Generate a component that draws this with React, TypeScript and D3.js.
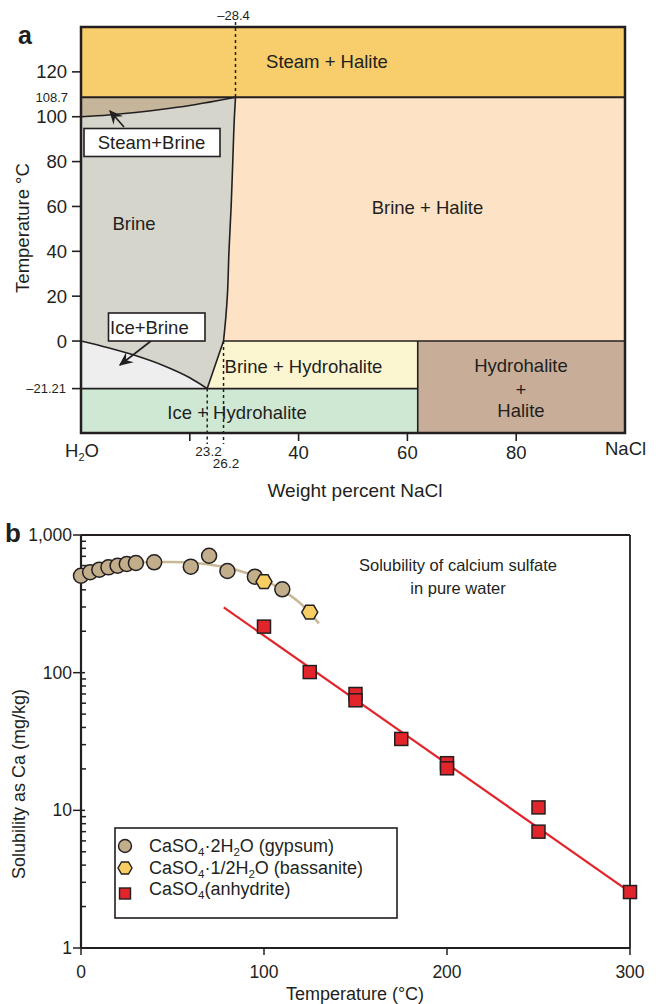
import React from "react";
import * as d3 from "d3";

// ---------- Panel a data (phase diagram H2O–NaCl) ----------
const steamBrineCurve: [number, number][] = [[0, 100], [5, 100.8], [10, 101.9], [15, 103.3], [20, 105], [25, 107.1], [28.4, 108.7]];
const haliteSatCurve: [number, number][] = [[26.2, 0], [26.6, 10], [26.9, 20], [27.2, 40], [27.6, 60], [27.9, 80], [28.2, 100], [28.4, 108.7]];
const iceCurve: [number, number][] = [[0, 0], [5, -3], [10, -6.5], [15, -10.8], [20, -16.4], [23.2, -21.21]];
const eutectic: [number, number] = [23.2, -21.21];
const peritectic: [number, number] = [26.2, 0];
const hydrohaliteX = 61.9;
const boilT = 108.7;
const aYTicks = [120, 100, 80, 60, 40, 20, 0];
const aXTicks = [20, 40, 60, 80];
const aXLabels = [40, 60, 80];

// ---------- Panel b data (CaSO4 solubility) ----------
const gypsumT = [0, 5, 10, 15, 20, 25, 30, 40, 60, 70, 80, 95, 110];
const gypsumV = [506, 536, 560, 582, 598, 616, 626, 633, 589, 707, 548, 498, 403];
const bassaniteT = [100, 125];
const bassaniteV = [458, 275];
const anhydriteT = [100, 125, 150, 150, 175, 200, 200, 250, 250, 300];
const anhydriteV = [216, 101, 70, 63, 33, 22, 20.2, 10.5, 7.0, 2.55];
const gypsumCurveT = [0, 10, 20, 30, 40, 50, 60, 70, 80, 90, 100, 110, 120, 130];
const gypsumCurveV = [515, 565, 603, 626, 636, 636, 628, 610, 578, 532, 472, 398, 318, 228];
const anhydriteFitT = [78, 300];
const anhydriteFitV = [298, 2.55];
const bYTicks = [1, 10, 100, 1000];
const bXTicks = [0, 100, 200, 300];

const FONT = "'Liberation Sans', Arial, Helvetica, sans-serif";

export default function App() {
  // Panel a scales
  const ax = d3.scaleLinear().domain([0, 100]).range([81, 625]);
  const ay = d3.scaleLinear().domain([-41, 140]).range([433, 27]);
  const P = (p: [number, number]) => `${ax(p[0])},${ay(p[1])}`;
  const line = d3.line<[number, number]>().x(d => ax(d[0])).y(d => ay(d[1])).curve(d3.curveMonotoneX);
  const lineY = d3.line<[number, number]>().x(d => ax(d[0])).y(d => ay(d[1])).curve(d3.curveMonotoneY);

  const xmin = 0, xmax = 100, ymin = -41, ymax = 140;
  const poly = (pts: [number, number][]) => pts.map(P).join(" ");
  const brinePts: [number, number][] = [
    ...steamBrineCurve,
    ...haliteSatCurve.slice().reverse(),
    eutectic,
    ...iceCurve.slice().reverse(),
  ];
  const steamBrinePts: [number, number][] = [[0, boilT], ...steamBrineCurve];
  const iceBrinePts: [number, number][] = [...iceCurve, [0, -21.21]];
  const brineHalitePts: [number, number][] = [...haliteSatCurve, [xmax, boilT], [xmax, 0]];
  const brineHydroPts: [number, number][] = [eutectic, peritectic, [hydrohaliteX, 0], [hydrohaliteX, -21.21]];

  // Panel b scales
  const bx = d3.scaleLinear().domain([0, 300]).range([81, 630]);
  const by = d3.scaleLog().domain([1, 1000]).range([948, 535]);
  const gCurve = d3.line<number>().x((_, i) => bx(gypsumCurveT[i])).y(d => by(d)).curve(d3.curveCatmullRom);
  const minorTicks: number[] = [];
  for (let dec = 1; dec < 1000; dec *= 10) for (let k = 2; k <= 9; k++) minorTicks.push(dec * k);
  const hex = (cx: number, cy: number, r: number) =>
    d3.range(6).map(i => `${cx + r * Math.cos((Math.PI / 3) * i)},${cy + r * Math.sin((Math.PI / 3) * i)}`).join(" ");

  const gypFill = "#C3AE8C", basFill = "#F8CD62", anhFill = "#E1252B", ink = "#231F20";
  const FA = 18.5; // panel a font
  const FB = 17.5; // panel b font

  const sub = (t: string) => <tspan dy={4} fontSize={11.5}>{t}</tspan>;

  return (
    <svg width={661} height={1004} style={{ position: "absolute", left: 0, top: 0, fontFamily: FONT }}>
      {/* ================= Panel a ================= */}
      <text x={18} y={44} fontSize={25} fontWeight="bold" fill={ink}>a</text>
      <rect x={ax(xmin)} y={ay(ymax)} width={ax(xmax) - ax(xmin)} height={ay(boilT) - ay(ymax)} fill="#F8CD6B" />
      <polygon points={poly(brineHalitePts)} fill="#FDE2C5" />
      <polygon points={poly(brinePts)} fill="#D5D5CC" />
      <polygon points={poly(steamBrinePts)} fill="#C5B69B" />
      <polygon points={poly(iceBrinePts)} fill="#EEEEEE" />
      <polygon points={poly(brineHydroPts)} fill="#FBF6D0" />
      <rect x={ax(0)} y={ay(-21.21)} width={ax(hydrohaliteX) - ax(0)} height={ay(ymin) - ay(-21.21)} fill="#CFE8D3" />
      <rect x={ax(hydrohaliteX)} y={ay(0)} width={ax(xmax) - ax(hydrohaliteX)} height={ay(ymin) - ay(0)} fill="#C8AE98" />

      {/* boundaries */}
      <g fill="none" stroke={ink} strokeWidth={1.6}>
        <path d={line(steamBrineCurve) || ""} />
        <path d={lineY(haliteSatCurve) || ""} />
        <path d={line(iceCurve) || ""} />
        <line x1={ax(eutectic[0])} y1={ay(eutectic[1])} x2={ax(peritectic[0])} y2={ay(peritectic[1])} />
        <line x1={ax(0)} x2={ax(xmax)} y1={ay(boilT)} y2={ay(boilT)} strokeWidth={2} />
        <line x1={ax(peritectic[0])} x2={ax(xmax)} y1={ay(0)} y2={ay(0)} />
        <line x1={ax(0)} x2={ax(hydrohaliteX)} y1={ay(-21.21)} y2={ay(-21.21)} />
        <line x1={ax(hydrohaliteX)} x2={ax(hydrohaliteX)} y1={ay(0)} y2={ay(ymin)} />
      </g>
      {/* dashed lines */}
      <g stroke={ink} strokeWidth={1.5} strokeDasharray="3,3">
        <line x1={ax(28.4)} x2={ax(28.4)} y1={22} y2={ay(boilT)} />
        <line x1={ax(23.2)} x2={ax(23.2)} y1={ay(-21.21)} y2={444} />
        <line x1={ax(26.2)} x2={ax(26.2)} y1={ay(0)} y2={444} />
      </g>
      <rect x={ax(xmin)} y={ay(ymax)} width={ax(xmax) - ax(xmin)} height={ay(ymin) - ay(ymax)} fill="none" stroke={ink} strokeWidth={2.5} />

      {/* axes a */}
      <g stroke={ink} strokeWidth={1.6}>
        {aYTicks.map(t => <line key={t} x1={ax(0) - 9} x2={ax(0)} y1={ay(t)} y2={ay(t)} />)}
        <line x1={ax(0) - 9} x2={ax(0)} y1={ay(-21.21)} y2={ay(-21.21)} />
        {aXTicks.map(t => <line key={t} x1={ax(t)} x2={ax(t)} y1={ay(ymin)} y2={ay(ymin) + 8} />)}
      </g>
      <g fontSize={FA} fill={ink} textAnchor="end">
        {aYTicks.map(t => <text key={t} x={67} y={ay(t) + 6.5}>{t}</text>)}
      </g>
      <text x={68} y={102} fontSize={13} textAnchor="end" fill={ink}>108.7</text>
      <text x={66} y={392.5} fontSize={13} textAnchor="end" fill={ink}>–21.21</text>
      <text x={ax(28.4) - 2} y={20} fontSize={13} textAnchor="middle" fill={ink}>–28.4</text>
      <g fontSize={FA} fill={ink} textAnchor="middle">
        {aXLabels.map(t => <text key={t} x={ax(t)} y={459}>{t}</text>)}
      </g>
      <text x={65} y={457} fontSize={FA} fill={ink}>H<tspan dy={4} fontSize={11}>2</tspan><tspan dy={-4}>O</tspan></text>
      <text x={605} y={455} fontSize={FA} fill={ink}>NaCl</text>
      <text x={208.5} y={455.5} fontSize={13.5} textAnchor="middle" fill={ink}>23.2</text>
      <text x={226} y={468} fontSize={13.5} textAnchor="middle" fill={ink}>26.2</text>
      <text x={355} y={497} fontSize={19} textAnchor="middle" fill={ink}>Weight percent NaCl</text>
      <text transform="translate(29,228) rotate(-90)" fontSize={FA} textAnchor="middle" fill={ink}>Temperature °C</text>

      {/* region labels */}
      <g fontSize={FA} fill={ink} textAnchor="middle">
        <text x={327} y={67.5}>Steam + Halite</text>
        <text x={427.5} y={214}>Brine + Halite</text>
        <text x={134} y={230}>Brine</text>
        <text x={303.5} y={372.5}>Brine + Hydrohalite</text>
        <text x={237} y={419}>Ice + Hydrohalite</text>
        <text x={521} y={372}>Hydrohalite</text>
        <text x={521} y={396}>+</text>
        <text x={521} y={417}>Halite</text>
      </g>
      {/* callout boxes */}
      <defs>
        <marker id="arr" viewBox="0 0 10 10" refX={9} refY={5} markerWidth={14} markerHeight={14} orient="auto-start-reverse" markerUnits="userSpaceOnUse">
          <path d="M0,0.5 L10,5 L0,9.5 L3.5,5 z" fill={ink} />
        </marker>
      </defs>
      <line x1={124} y1={127} x2={110} y2={111} stroke={ink} strokeWidth={1.6} markerEnd="url(#arr)" />
      <rect x={84} y={128.5} width={136} height={28} fill="#fff" stroke={ink} strokeWidth={1.6} />
      <text x={151.5} y={149} fontSize={FA} textAnchor="middle" fill={ink}>Steam+Brine</text>
      <line x1={151} y1={341} x2={120} y2={365} stroke={ink} strokeWidth={1.6} markerEnd="url(#arr)" />
      <rect x={108.5} y={313} width={96.5} height={28} fill="#fff" stroke={ink} strokeWidth={1.6} />
      <text x={110} y={333.5} fontSize={FA} fill={ink}>Ice+Brine</text>

      {/* ================= Panel b ================= */}
      <text x={5} y={542} fontSize={26} fontWeight="bold" fill={ink}>b</text>
      <g stroke={ink} strokeWidth={1.8} fill="none">
        <line x1={bx(0)} x2={bx(300)} y1={by(1000)} y2={by(1000)} />
        <line x1={bx(300)} x2={bx(300)} y1={by(1000)} y2={by(1)} />
        <line x1={bx(0)} x2={bx(300)} y1={by(1)} y2={by(1)} strokeWidth={2.2} />
        <line x1={bx(0)} x2={bx(0)} y1={by(1000)} y2={by(1)} strokeWidth={2.2} />
      </g>
      <g stroke={ink} strokeWidth={1.5}>
        {bYTicks.map(t => <line key={t} x1={bx(0) - 8} x2={bx(0) + 4} y1={by(t)} y2={by(t)} />)}
        {minorTicks.map(t => <line key={t} x1={bx(0)} x2={bx(0) + 5} y1={by(t)} y2={by(t)} />)}
        {bXTicks.map(t => <line key={t} x1={bx(t)} x2={bx(t)} y1={by(1)} y2={by(1) + 7} />)}
      </g>
      <g fontSize={FB} fill={ink} textAnchor="end">
        {bYTicks.map(t => <text key={t} x={bx(0) - 9} y={by(t) + 6}>{d3.format(",")(t)}</text>)}
      </g>
      <g fontSize={FB} fill={ink} textAnchor="middle">
        {bXTicks.map(t => <text key={t} x={bx(t)} y={978}>{t}</text>)}
      </g>
      <text x={355} y={1000} fontSize={18} textAnchor="middle" fill={ink}>Temperature (°C)</text>
      <text transform="translate(25,784) rotate(-90)" fontSize={18} textAnchor="middle" fill={ink}>Solubility as Ca (mg/kg)</text>
      <g fontSize={16.5} fill={ink} textAnchor="middle">
        <text x={458} y={571}>Solubility of calcium sulfate</text>
        <text x={458} y={594}>in pure water</text>
      </g>

      {/* curves */}
      <path d={gCurve(gypsumCurveV) || ""} fill="none" stroke="#C9B896" strokeWidth={2.5} />
      <line x1={bx(anhydriteFitT[0])} y1={by(anhydriteFitV[0])} x2={bx(anhydriteFitT[1])} y2={by(anhydriteFitV[1])} stroke="#E2242B" strokeWidth={2.2} />

      {/* markers */}
      {gypsumT.map((t, i) => <circle key={"g" + i} cx={bx(t)} cy={by(gypsumV[i])} r={7.5} fill={gypFill} stroke={ink} strokeWidth={1.5} />)}
      {bassaniteT.map((t, i) => <polygon key={"b" + i} points={hex(bx(t), by(bassaniteV[i]), 8)} fill={basFill} stroke={ink} strokeWidth={1.5} />)}
      {anhydriteT.map((t, i) => <rect key={"a" + i} x={bx(t) - 6.5} y={by(anhydriteV[i]) - 6.5} width={13} height={13} fill={anhFill} stroke={ink} strokeWidth={1.5} />)}

      {/* legend */}
      <rect x={115} y={828} width={282} height={90} fill="#fff" stroke={ink} strokeWidth={1.6} />
      <circle cx={125} cy={846} r={6.5} fill={gypFill} stroke={ink} strokeWidth={1.4} />
      <polygon points={hex(125, 868, 7)} fill={basFill} stroke={ink} strokeWidth={1.4} />
      <rect x={119.5} y={888} width={11} height={11} fill={anhFill} stroke={ink} strokeWidth={1.4} />
      <g fontSize={18} fill={ink}>
        <text x={149} y={852}>CaSO{sub("4")}<tspan dy={-4}>·2H</tspan>{sub("2")}<tspan dy={-4}>O (gypsum)</tspan></text>
        <text x={149} y={874}>CaSO{sub("4")}<tspan dy={-4}>·1/2H</tspan>{sub("2")}<tspan dy={-4}>O (bassanite)</tspan></text>
        <text x={149} y={895}>CaSO{sub("4")}<tspan dy={-4}>(anhydrite)</tspan></text>
      </g>
    </svg>
  );
}
